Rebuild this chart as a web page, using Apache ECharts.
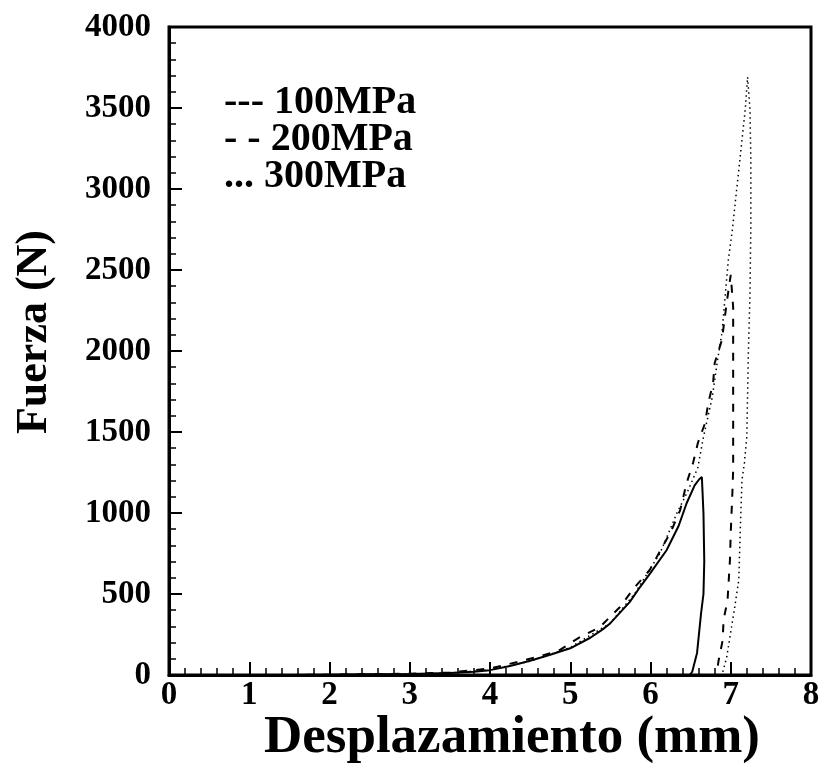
<!DOCTYPE html>
<html>
<head>
<meta charset="utf-8">
<script src="https://cdn.jsdelivr.net/npm/echarts@6/dist/echarts.min.js"></script>
<style>
  html, body { margin: 0; padding: 0; background: #fff; }
  #chart { width: 828px; height: 782px; }
</style>
</head>
<body>
<div id="chart"></div>
<script>
// Force–displacement curves for three pressure levels (loading branch then drop)
const disp100  = [1.5, 2.0, 2.5, 3.0, 3.5, 3.8, 4.0, 4.25, 4.5, 4.75, 5.0, 5.25, 5.4, 5.5, 5.62, 5.74, 5.87, 6.0, 6.2, 6.35, 6.45, 6.55, 6.61, 6.64, 6.66, 6.67, 6.66, 6.63, 6.58, 6.52, 6.49];
const force100 = [0, 2, 4, 6, 12, 20, 30, 55, 88, 125, 165, 230, 280, 320, 385, 450, 543, 630, 770, 920, 1060, 1170, 1210, 1222, 1000, 700, 500, 380, 136, 20, 0];

const disp200  = [1.5, 2.0, 2.5, 3.0, 3.5, 4.0, 4.34, 4.58, 4.85, 5.1, 5.37, 5.62, 5.8, 5.99, 6.14, 6.25, 6.37, 6.45, 6.53, 6.59, 6.68, 6.72, 6.78, 6.8, 6.89, 6.95, 7.0, 7.03, 7.03, 7.03, 7.02, 7.0, 6.99, 6.96, 6.91, 6.9, 6.85, 6.83, 6.82];
const force200 = [0, 2, 5, 8, 15, 40, 80, 111, 148, 228, 296, 420, 540, 648, 784, 880, 1018, 1185, 1308, 1432, 1555, 1679, 1802, 1926, 2068, 2300, 2470, 2270, 1800, 1265, 1120, 880, 710, 460, 340, 216, 93, 30, 0];

const disp300  = [1.5, 2.0, 2.5, 3.0, 3.5, 4.0, 4.5, 5.0, 5.5, 5.8, 6.12, 6.33, 6.46, 6.59, 6.66, 6.77, 6.83, 6.89, 6.97, 7.02, 7.05, 7.1, 7.14, 7.18, 7.21, 7.22, 7.24, 7.25, 7.25, 7.24, 7.22, 7.2, 7.17, 7.14, 7.12, 7.1, 7.05, 6.99, 6.95, 6.9, 6.89];
const force300 = [0, 1, 3, 6, 12, 32, 85, 170, 320, 500, 753, 1000, 1130, 1280, 1469, 1716, 1926, 2111, 2562, 2747, 2889, 3117, 3302, 3488, 3691, 3700, 3488, 3179, 2765, 2358, 2000, 1470, 1309, 1204, 914, 586, 420, 235, 111, 18, 0];

const seriesNames = ['100MPa', '200MPa', '300MPa'];
const legendMarks = { '100MPa': '---', '200MPa': '- -', '300MPa': '...' };

const xTicks = { min: 0, max: 8, interval: 1 };
const yTicks = { min: 0, max: 4000, interval: 500 };

const xTitle = 'Desplazamiento (mm)';
const yTitle = 'Fuerza (N)';

function pairs(xs, ys) { return xs.map((x, i) => [x, ys[i]]); }

const serif = "'Liberation Serif', 'DejaVu Serif', serif";
const chart = echarts.init(document.getElementById('chart'), null, { renderer: 'canvas' });

const axisCommon = {
  axisLine: { show: true, lineStyle: { color: '#000', width: 3 } },
  axisTick: { show: true, inside: true, length: 13, lineStyle: { color: '#000', width: 2 } },
  minorTick: { show: true, splitNumber: 5, length: 7, lineStyle: { color: '#000', width: 1.5 } },
  splitLine: { show: false },
  axisLabel: { color: '#000', fontFamily: serif, fontWeight: 'bold', fontSize: 33, formatter: v => String(v) }
};

chart.setOption({
  animation: false,
  backgroundColor: '#fff',
  grid: { left: 169, right: 17, top: 27, bottom: 107, show: true, borderColor: '#000', borderWidth: 3, backgroundColor: 'transparent' },
  legend: {
    data: seriesNames,
    orient: 'vertical',
    left: 214,
    top: 78,
    icon: 'none',
    itemWidth: 0,
    itemGap: -3,
    formatter: name => legendMarks[name] + ' ' + name,
    textStyle: { color: '#000', fontFamily: serif, fontWeight: 'bold', fontSize: 40 },
    selectedMode: false
  },
  xAxis: Object.assign({}, axisCommon, {
    type: 'value', min: xTicks.min, max: xTicks.max, interval: xTicks.interval,
    axisLabel: Object.assign({}, axisCommon.axisLabel, { margin: 4 })
  }),
  yAxis: Object.assign({}, axisCommon, {
    type: 'value', min: yTicks.min, max: yTicks.max, interval: yTicks.interval,
    axisLabel: Object.assign({}, axisCommon.axisLabel, { margin: 18 })
  }),
  graphic: [
    { type: 'text', x: 512, y: 738,
      style: { text: xTitle, fill: '#000', font: 'bold 53px ' + serif, align: 'center', verticalAlign: 'middle' } },
    { type: 'text', x: 35, y: 332, rotation: Math.PI / 2,
      style: { text: yTitle, fill: '#000', font: 'bold 44px ' + serif, align: 'center', verticalAlign: 'middle' } }
  ],
  series: [
    { name: '100MPa', type: 'line', data: pairs(disp100, force100), showSymbol: false, symbol: 'none',
      lineStyle: { color: '#000', width: 2 }, itemStyle: { color: '#000' } },
    { name: '200MPa', type: 'line', data: pairs(disp200, force200), showSymbol: false, symbol: 'none',
      lineStyle: { color: '#000', width: 2, type: [8, 9] }, itemStyle: { color: '#000' } },
    { name: '300MPa', type: 'line', data: pairs(disp300, force300), showSymbol: false, symbol: 'none',
      lineStyle: { color: '#000', width: 1.5, type: [1.5, 3.5] }, itemStyle: { color: '#000' } }
  ]
});
</script>
</body>
</html>
